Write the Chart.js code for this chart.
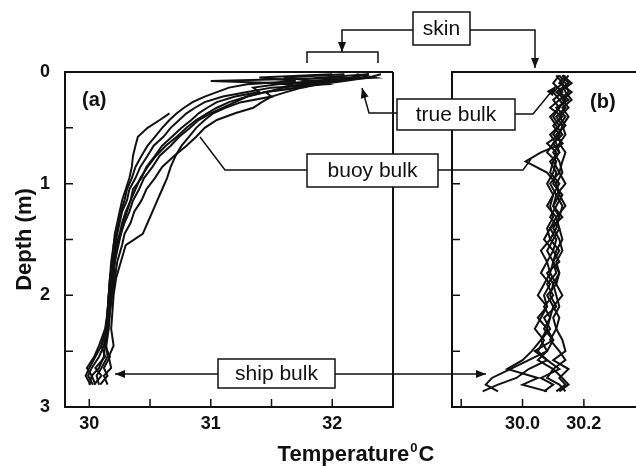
<!DOCTYPE html>
<html>
<head>
<meta charset="utf-8">
<script src="https://cdn.jsdelivr.net/npm/chart.js@4.4.1/dist/chart.umd.min.js"></script>
<style>
html, body { margin: 0; padding: 0; background: #fff; overflow: hidden; }
#wrap { position: relative; width: 636px; height: 466px; }
#wrap canvas { position: absolute; left: 0; top: 0; }
</style>
</head>
<body>
<div id="wrap">
	<canvas id="chartA" width="636" height="466"></canvas>
	<canvas id="chartB" width="636" height="466"></canvas>
</div>
<script>
// Depth levels (m) for panel (a)
const depthA = [0.02, 0.05, 0.08, 0.11, 0.14, 0.18, 0.22, 0.27, 0.32, 0.37, 0.43, 0.5, 0.58, 0.66, 0.75, 0.85, 0.95,
	1.05, 1.15, 1.25, 1.35, 1.45, 1.55, 1.7, 1.85, 2.0, 2.15, 2.3, 2.45, 2.55, 2.65, 2.72, 2.8];

// Temperature profiles (deg C), panel (a)
const profA1 = [32.3, 32.15, 31.0, 31.85, 31.7, 31.45, 31.3, 31.15, 31.05, 30.97, 30.88, 30.8, 30.72, 30.63, 30.55, 30.48, 30.42,
	30.38, 30.34, 30.31, 30.28, 30.26, 30.23, 30.21, 30.2, 30.18, 30.17, 30.15, 30.13, 30.12, 30.08, 30.02, 30.05];
const profA2 = [32.4, 32.3, 32.1, 31.9, 31.75, 31.62, 31.5, 31.42, 31.35, 31.2, 31.05, 30.95, 30.88, 30.8, 30.7, 30.6, 30.54,
	30.47, 30.43, 30.37, 30.34, 30.29, 30.27, 30.23, 30.21, 30.19, 30.17, 30.16, 30.14, 30.15, 30.1, 30.06, 30.08];
const profA3 = [32.3, 32.25, 32.0, 31.6, 31.75, 31.45, 31.5, 31.25, 31.12, 31.02, 30.95, 30.88, 30.82, 30.76, 30.71, 30.67, 30.64,
	30.6, 30.56, 30.52, 30.48, 30.44, 30.3, 30.26, 30.22, 30.2, 30.19, 30.18, 30.2, 30.16, 30.18, 30.12, 30.15];
const profA4 = [32.2, 32.35, 31.8, 31.95, 31.5, 31.3, 31.1, 30.95, 30.87, 30.8, 30.74, 30.67, 30.61, 30.53, 30.48, 30.42, 30.38,
	30.33, 30.31, 30.27, 30.25, 30.23, 30.21, 30.19, 30.17, 30.16, 30.15, 30.14, 30.12, 30.08, 30.02, 29.99, 30.03];
const profA5 = [32.1, 31.6, 31.85, 31.55, 31.35, 31.4, 31.2, 31.05, 30.97, 30.9, 30.84, 30.76, 30.68, 30.6, 30.54, 30.47, 30.43,
	30.36, 30.34, 30.3, 30.27, 30.25, 30.22, 30.2, 30.18, 30.17, 30.15, 30.14, 30.1, 30.13, 30.05, 30.1, 30.04];
const profA6 = [32.3, 31.9, 32.05, 31.75, 31.6, 31.45, 31.3, 31.2, 31.1, 31.0, 30.9, 30.83, 30.74, 30.67, 30.58, 30.52, 30.45,
	30.41, 30.36, 30.33, 30.29, 30.26, 30.24, 30.21, 30.19, 30.18, 30.16, 30.15, 30.13, 30.17, 30.12, 30.15, 30.09];
const profA7 = [32.0, 31.4, 31.7, 31.3, 31.15, 31.05, 30.95, 30.85, 30.78, 30.72, 30.66, 30.6, 30.54, 30.48, 30.43, 30.38, 30.35,
	30.31, 30.29, 30.26, 30.24, 30.22, 30.2, 30.19, 30.17, 30.16, 30.15, 30.13, 30.08, 30.04, 29.98, 30.02, 30.0];
const profA8 = [null, null, null, null, null, null, null, null, null, 30.66, 30.58, 30.48, 30.4, 30.38, 30.36, 30.35, 30.33,
	30.3, 30.27, 30.25, 30.23, 30.21, 30.2, 30.18, 30.17, 30.16, 30.15, 30.14, 30.1, 30.05, 30.0, 29.97, 30.01];

// Depth levels (m) for panel (b)
const depthB = [0.03, 0.1, 0.18, 0.25, 0.32, 0.4, 0.48, 0.56, 0.64, 0.72, 0.8, 0.9, 1.0, 1.1, 1.2, 1.3, 1.4,
	1.5, 1.6, 1.7, 1.8, 1.9, 2.0, 2.1, 2.2, 2.3, 2.4, 2.5, 2.58, 2.66, 2.74, 2.8, 2.86];

// Temperature profiles (deg C), panel (b)
const profB1 = [30.13, 30.16, 30.12, 30.15, 30.11, 30.14, 30.12, 30.1, 30.13, 30.06, 30.01, 30.08, 30.11, 30.12, 30.1, 30.13, 30.09,
	30.11, 30.1, 30.12, 30.08, 30.1, 30.09, 30.11, 30.07, 30.09, 30.06, 30.08, 30.02, 29.96, 29.9, 29.88, 29.92];
const profB2 = [30.12, 30.14, 30.15, 30.12, 30.14, 30.11, 30.13, 30.12, 30.1, 30.12, 30.09, 30.11, 30.1, 30.13, 30.11, 30.09, 30.12,
	30.1, 30.08, 30.1, 30.11, 30.08, 30.1, 30.07, 30.09, 30.08, 30.1, 30.04, 30.08, 30.12, 30.06, 30.1, 30.07];
const profB3 = [30.14, 30.12, 30.16, 30.13, 30.15, 30.12, 30.14, 30.11, 30.13, 30.1, 30.12, 30.13, 30.11, 30.12, 30.14, 30.11, 30.12,
	30.13, 30.11, 30.1, 30.12, 30.11, 30.13, 30.1, 30.12, 30.11, 30.13, 30.14, 30.1, 30.15, 30.12, 30.14, 30.11];
const profB4 = [30.11, 30.13, 30.1, 30.12, 30.09, 30.13, 30.1, 30.12, 30.08, 30.11, 30.1, 30.09, 30.12, 30.1, 30.08, 30.11, 30.09,
	30.07, 30.1, 30.08, 30.06, 30.09, 30.07, 30.08, 30.05, 30.08, 30.06, 30.03, 30.0, 29.95, 30.05, 30.0, 30.08];
const profB5 = [30.15, 30.13, 30.14, 30.16, 30.13, 30.15, 30.13, 30.14, 30.12, 30.14, 30.13, 30.12, 30.14, 30.11, 30.13, 30.12, 30.1,
	30.12, 30.13, 30.11, 30.12, 30.1, 30.11, 30.12, 30.1, 30.11, 30.09, 30.12, 30.14, 30.1, 30.13, 30.15, 30.12];
const profB6 = [30.12, 30.1, 30.13, 30.1, 30.12, 30.09, 30.11, 30.13, 30.1, 30.08, 30.11, 30.1, 30.08, 30.1, 30.09, 30.1, 30.08,
	30.09, 30.06, 30.08, 30.09, 30.07, 30.05, 30.08, 30.06, 30.04, 30.07, 30.05, 30.08, 30.02, 29.98, 29.92, 29.87];
const profB7 = [30.13, 30.15, 30.11, 30.14, 30.12, 30.1, 30.12, 30.09, 30.11, 30.12, 30.1, 30.12, 30.09, 30.11, 30.1, 30.12, 30.11,
	30.09, 30.12, 30.1, 30.09, 30.11, 30.08, 30.1, 30.09, 30.07, 30.1, 30.08, 30.05, 30.1, 30.08, 30.12, 30.14];

// Ticks and labels
const depthTicks = [0, 0.5, 1, 1.5, 2, 2.5, 3];
const depthLabels = ["0", "", "1", "", "2", "", "3"];
const tempTicksA = [30, 30.5, 31, 31.5, 32];
const tempLabelsA = ["30", "", "31", "", "32"];
const tempTicksB = [29.8, 30.0, 30.2];
const tempLabelsB = ["", "30.0", "30.2"];

// Callout boxes and leader lines (page pixels)
const notes = [
	{ text: "skin", box: [413, 12, 57, 33] },
	{ text: "true bulk", box: [397, 99, 118, 31] },
	{ text: "buoy bulk", box: [307, 154, 131, 33] },
	{ text: "ship bulk", box: [218, 359, 117, 29] },
];
const leaders = [
	{ pts: [[413, 30], [342, 30], [342, 52]], arrow: true },
	{ pts: [[470, 30], [535, 30], [535, 68]], arrow: true },
	{ pts: [[307, 63], [307, 52], [378, 52], [378, 63]], arrow: false },
	{ pts: [[397, 113], [369, 113], [362, 88]], arrow: true },
	{ pts: [[515, 114], [533, 114], [556, 86]], arrow: true },
	{ pts: [[307, 170], [225, 170], [200, 137]], arrow: false },
	{ pts: [[438, 170], [523, 170], [531, 159]], arrow: false },
	{ pts: [[218, 374], [115, 374]], arrow: true },
	{ pts: [[335, 374], [486, 374]], arrow: true },
];

const FONT = '"Liberation Sans", Arial, Helvetica, sans-serif';
Chart.defaults.font.family = FONT;
Chart.defaults.color = "#111";

function profile(depths, temps) {
	return depths
		.map((d, i) => ({ x: temps[i], y: d }))
		.filter((p) => p.x !== null);
}

function lineSet(data) {
	return {
		data: data,
		showLine: true,
		borderColor: "#111",
		borderWidth: 2,
		pointRadius: 0,
		tension: 0,
	};
}

// Frame, inward tick marks and panel tag
const framePlugin = {
	id: "frame",
	afterDatasetsDraw(chart, args, opts) {
		const { ctx, chartArea: a, scales } = chart;
		ctx.save();
		ctx.strokeStyle = "#111";
		ctx.lineWidth = 2;
		ctx.beginPath();
		ctx.moveTo(a.right, a.top);
		ctx.lineTo(a.left, a.top);
		ctx.lineTo(a.left, a.bottom);
		ctx.lineTo(a.right, a.bottom);
		if (opts.closed) ctx.lineTo(a.right, a.top);
		ctx.stroke();

		ctx.lineWidth = 1.5;
		ctx.beginPath();
		opts.xTicks.forEach((v) => {
			const px = scales.x.getPixelForValue(v);
			ctx.moveTo(px, a.bottom);
			ctx.lineTo(px, a.bottom - 8);
		});
		depthTicks.slice(1, -1).forEach((v) => {
			const py = scales.y.getPixelForValue(v);
			ctx.moveTo(a.left, py);
			ctx.lineTo(a.left + 8, py);
		});
		ctx.stroke();

		ctx.fillStyle = "#111";
		ctx.font = "bold 20px " + FONT;
		ctx.textBaseline = "alphabetic";
		ctx.fillText(opts.tag, a.left + opts.tagX, a.top + opts.tagY);
		ctx.restore();
	},
};

function arrowHead(ctx, from, to) {
	const ang = Math.atan2(to[1] - from[1], to[0] - from[0]);
	const len = 10, half = 4;
	ctx.beginPath();
	ctx.moveTo(to[0], to[1]);
	ctx.lineTo(to[0] - len * Math.cos(ang) + half * Math.sin(ang), to[1] - len * Math.sin(ang) - half * Math.cos(ang));
	ctx.lineTo(to[0] - len * Math.cos(ang) - half * Math.sin(ang), to[1] - len * Math.sin(ang) + half * Math.cos(ang));
	ctx.closePath();
	ctx.fill();
}

// Callouts and shared x title, drawn on top of both panels
const calloutPlugin = {
	id: "callouts",
	afterDraw(chart) {
		const ctx = chart.ctx;
		ctx.save();
		ctx.strokeStyle = "#111";
		ctx.fillStyle = "#111";
		ctx.lineWidth = 1.5;
		leaders.forEach((l) => {
			ctx.beginPath();
			l.pts.forEach((p, i) => (i ? ctx.lineTo(p[0], p[1]) : ctx.moveTo(p[0], p[1])));
			ctx.stroke();
			if (l.arrow) {
				const n = l.pts.length;
				arrowHead(ctx, l.pts[n - 2], l.pts[n - 1]);
			}
		});

		ctx.font = "21px " + FONT;
		ctx.textAlign = "center";
		ctx.textBaseline = "middle";
		notes.forEach((n) => {
			const [x, y, w, h] = n.box;
			ctx.fillStyle = "#fff";
			ctx.fillRect(x, y, w, h);
			ctx.strokeRect(x, y, w, h);
			ctx.fillStyle = "#111";
			ctx.fillText(n.text, x + w / 2, y + h / 2 + 1);
		});

		// Temperature⁰C title centred under both panels
		ctx.textAlign = "left";
		ctx.textBaseline = "alphabetic";
		const big = "bold 22px " + FONT, small = "bold 13px " + FONT;
		ctx.font = big;
		const w1 = ctx.measureText("Temperature").width;
		const w3 = ctx.measureText("C").width;
		ctx.font = small;
		const w2 = ctx.measureText("0").width;
		let x = 356 - (w1 + w2 + w3 + 2) / 2;
		ctx.font = big;
		ctx.fillText("Temperature", x, 461);
		x += w1 + 1;
		ctx.font = small;
		ctx.fillText("0", x, 452);
		x += w2 + 1;
		ctx.font = big;
		ctx.fillText("C", x, 461);
		ctx.restore();
	},
};

const tickFont = { size: 18, weight: "bold" };

// Panel (a)
const chartA = new Chart(document.getElementById("chartA"), {
	type: "scatter",
	data: {
		datasets: [profA1, profA2, profA3, profA4, profA5, profA6, profA7, profA8].map((t) => lineSet(profile(depthA, t))),
	},
	plugins: [framePlugin],
	options: {
		responsive: false,
		animation: false,
		events: [],
		layout: { padding: { left: 0, top: 72, right: 243, bottom: 29 } },
		plugins: {
			legend: { display: false },
			tooltip: { enabled: false },
			frame: { closed: true, xTicks: tempTicksA, tag: "(a)", tagX: 17, tagY: 34 },
		},
		scales: {
			x: {
				type: "linear",
				min: 29.8,
				max: 32.5,
				grid: { display: false },
				border: { display: false },
				afterBuildTicks: (s) => { s.ticks = tempTicksA.map((v) => ({ value: v })); },
				afterFit: (s) => { s.height = 30; },
				ticks: { autoSkip: false, maxRotation: 0, padding: -2, font: tickFont, callback: (v, i) => tempLabelsA[i] },
			},
			y: {
				type: "linear",
				reverse: true,
				min: 0,
				max: 3,
				grid: { display: false },
				border: { display: false },
				afterBuildTicks: (s) => { s.ticks = depthTicks.map((v) => ({ value: v })); },
				afterFit: (s) => { s.width = 65; },
				ticks: { autoSkip: false, padding: 7, font: tickFont, callback: (v, i) => depthLabels[i] },
				title: { display: true, text: "Depth (m)", font: { size: 22, weight: "bold" }, padding: { top: 12 } },
			},
		},
	},
});

// Panel (b)
const chartB = new Chart(document.getElementById("chartB"), {
	type: "scatter",
	data: {
		datasets: [profB1, profB2, profB3, profB4, profB5, profB6, profB7].map((t) => lineSet(profile(depthB, t))),
	},
	plugins: [framePlugin, calloutPlugin],
	options: {
		responsive: false,
		animation: false,
		events: [],
		layout: { padding: { left: 0, top: 72, right: 0, bottom: 29 } },
		plugins: {
			legend: { display: false },
			tooltip: { enabled: false },
			frame: { closed: false, xTicks: tempTicksB, tag: "(b)", tagX: 138, tagY: 36 },
		},
		scales: {
			x: {
				type: "linear",
				min: 29.77,
				max: 30.37,
				grid: { display: false },
				border: { display: false },
				afterBuildTicks: (s) => { s.ticks = tempTicksB.map((v) => ({ value: v })); },
				afterFit: (s) => { s.height = 30; },
				ticks: { autoSkip: false, maxRotation: 0, padding: -2, font: tickFont, callback: (v, i) => tempLabelsB[i] },
			},
			y: {
				type: "linear",
				reverse: true,
				min: 0,
				max: 3,
				grid: { display: false },
				border: { display: false },
				afterBuildTicks: (s) => { s.ticks = depthTicks.map((v) => ({ value: v })); },
				afterFit: (s) => { s.width = 452; },
				ticks: { display: false },
			},
		},
	},
});
</script>
</body>
</html>
